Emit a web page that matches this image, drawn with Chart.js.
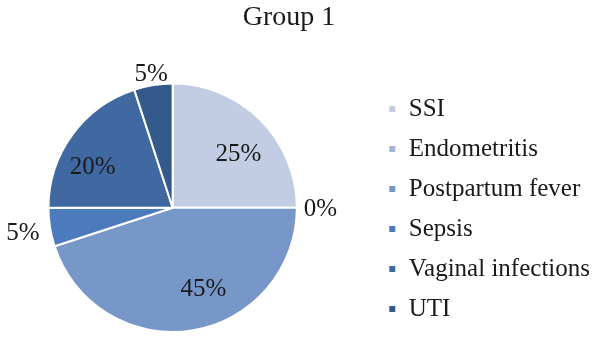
<!DOCTYPE html>
<html>
<head>
<meta charset="utf-8">
<title>Group 1</title>
<script src="https://cdn.jsdelivr.net/npm/chart.js@4.4.1/dist/chart.umd.min.js"></script>
<style>
    html, body { margin: 0; padding: 0; background: #ffffff; }
    #wrap { width: 600px; height: 341px; position: relative; }
</style>
</head>
<body>
<div id="wrap"><canvas id="pieChart"></canvas></div>
<script>
// =====================================
// Data
// =====================================

const chartTitle = "Group 1";

const categories = ["SSI", "Endometritis", "Postpartum fever", "Sepsis", "Vaginal infections", "UTI"];

const percentValues = [25, 0, 45, 5, 20, 5];

// =====================================
// Style
// =====================================

const sliceColors = ["#c2cde3", "#a3b5da", "#7797c9", "#4b7bbc", "#4069a1", "#345a8b"];

// label distance from centre (fraction of radius) and angle nudge (degrees)
const labelRadius = [0.69, 1.19, 0.69, 1.22, 0.73, 1.10];
const labelNudge = [5, 0, -12, 0, -8, 0];

const serif = "'Liberation Serif', 'Times New Roman', serif";

// =====================================
// Plugins
// =====================================

// pie sits a bit left of its box, title a bit left of centre
const shiftLayout = {

    id: "shiftLayout",

    afterLayout(chart) {

        const area = chart.chartArea;
        area.left -= 28;
        area.bottom -= 3.5;
        area.width = area.right - area.left;
        area.height = area.bottom - area.top;

        if (chart.titleBlock) {
            chart.titleBlock.right -= 22;
            chart.titleBlock.width = chart.titleBlock.right - chart.titleBlock.left;
        }
    }
};

const percentLabels = {

    id: "percentLabels",

    afterDatasetsDraw(chart) {

        const ctx = chart.ctx;
        const meta = chart.getDatasetMeta(0);

        ctx.save();
        ctx.font = "25px " + serif;
        ctx.fillStyle = "#1a1a1a";
        ctx.textAlign = "center";
        ctx.textBaseline = "middle";

        meta.data.forEach((arc, i) => {

            const p = arc.getProps(["x", "y", "startAngle", "endAngle", "outerRadius"], true);
            const mid = (p.startAngle + p.endAngle) / 2 + labelNudge[i] * Math.PI / 180;
            const r = p.outerRadius * labelRadius[i];

            ctx.fillText(
                percentValues[i] + "%",
                p.x + Math.cos(mid) * r,
                p.y + Math.sin(mid) * r + 2
            );
        });

        ctx.restore();
    }
};

// =====================================
// Chart
// =====================================

const ctx = document.getElementById("pieChart").getContext("2d");

new Chart(ctx, {

    type: "pie",

    data: {
        labels: categories,
        datasets: [
            {
                data: percentValues,
                backgroundColor: sliceColors,
                borderColor: "#ffffff",
                borderWidth: 2,
                clip: false
            }
        ]
    },

    options: {
        responsive: true,
        maintainAspectRatio: false,
        animation: false,
        layout: {
            padding: { left: 0, right: 0, top: 0, bottom: 4.5 }
        },
        plugins: {
            title: {
                display: true,
                text: chartTitle,
                color: "#1a1a1a",
                font: { family: serif, size: 28, weight: "normal" },
                padding: { top: 1, bottom: 48 }
            },
            legend: {
                position: "right",
                align: "end",
                labels: {
                    boxWidth: 8,
                    boxHeight: 8,
                    padding: 15,
                    color: "#1a1a1a",
                    font: { family: serif, size: 25 }
                }
            },
            tooltip: { enabled: false }
        }
    },

    plugins: [shiftLayout, percentLabels]
});
</script>
</body>
</html>
